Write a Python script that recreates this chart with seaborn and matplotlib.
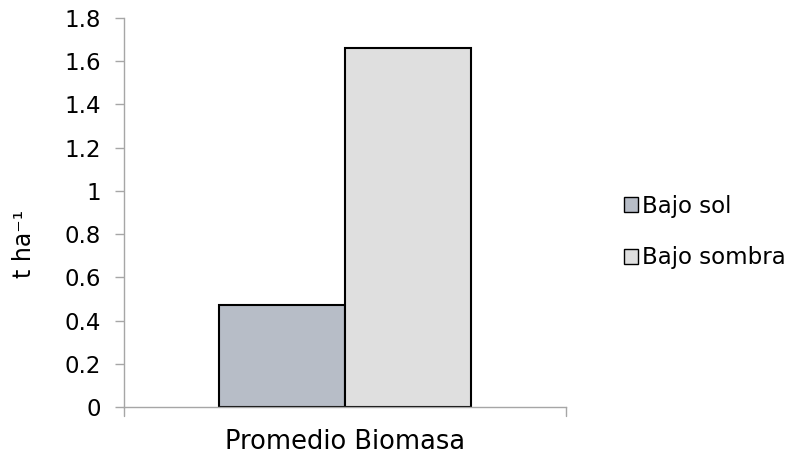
import matplotlib
matplotlib.use("Agg")
import matplotlib.pyplot as plt
import seaborn as sns
import pandas as pd
from matplotlib.patches import Patch

categories = ["Promedio Biomasa"]
series = ["Bajo sol", "Bajo sombra"]
values = [0.47, 1.66]
colors = ["#B7BDC7", "#DFDFDF"]
yticks = [0, 0.2, 0.4, 0.6, 0.8, 1, 1.2, 1.4, 1.6, 1.8]
ytick_labels = ["0", "0.2", "0.4", "0.6", "0.8", "1", "1.2", "1.4", "1.6", "1.8"]

df = pd.DataFrame({"cat": categories * len(series), "serie": series, "val": values})

sns.set_style("white")
plt.rcParams["font.family"] = ["DejaVu Sans"]
plt.rcParams["text.color"] = "black"
plt.rcParams["axes.labelcolor"] = "black"
plt.rcParams["xtick.labelcolor"] = "black"
plt.rcParams["ytick.labelcolor"] = "black"

fig = plt.figure(figsize=(7.87, 4.55), dpi=100)
ax = fig.add_axes([124/787, 1 - 407/455, (566-124)/787, (407-18)/455])

sns.barplot(data=df, x="cat", y="val", hue="serie", palette=colors,
            width=0.57, edgecolor="black", linewidth=1.5, ax=ax, legend=False,
            saturation=1)

ax.set_ylim(0, 1.8)
ax.set_xlim(-0.5, 0.5)
ax.set_yticks(yticks)
ax.set_yticklabels(ytick_labels, fontsize=16.5)
ax.set_xlabel("")
ax.set_ylabel("t ha\u207b\u00b9", fontsize=17)
ax.yaxis.set_label_coords(-0.20, 0.42)
ax.tick_params(axis="x", length=0, labelsize=18.5, pad=16)
ax.tick_params(axis="y", left=True, length=6.5, width=1, color="#A6A6A6", pad=10)

for s in ["top", "right"]:
    ax.spines[s].set_visible(False)
for s in ["left", "bottom"]:
    ax.spines[s].set_color("#A6A6A6")
    ax.spines[s].set_linewidth(1)

# edge ticks on x axis
for xv in [-0.5, 0.5]:
    ax.plot([xv, xv], [0, -0.04], color="#A6A6A6", lw=1, clip_on=False,
            transform=ax.transData)

handles = [Patch(facecolor=c, edgecolor="black", linewidth=1) for c in colors]
fig.legend(handles, series, loc="center left", bbox_to_anchor=(613/787, 1 - 232/455),
           frameon=False, fontsize=16.5, handlelength=0.6, handleheight=0.6,
           handletextpad=0.15, labelspacing=1.25, borderpad=0)

fig.savefig("out.png", dpi=100)
